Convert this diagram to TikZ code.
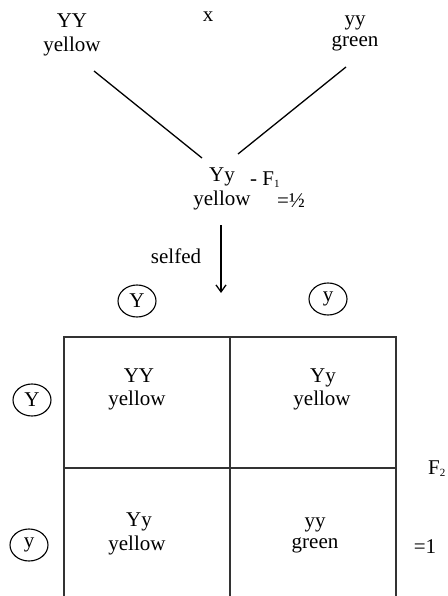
\documentclass[tikz,border=0pt]{standalone}
\usepackage{fontspec}
\setmainfont{Liberation Serif}
\usetikzlibrary{shapes.geometric,arrows.meta}
\begin{document}
\begin{tikzpicture}[x=1pt,y=-1pt,
  txt/.style={anchor=base,inner sep=0pt,font=\fontsize{21}{24}\selectfont},
  allele/.style={ellipse,draw,line width=1.1pt,minimum width=38pt,minimum height=32pt,inner sep=0pt,font=\fontsize{21}{24}\selectfont},
  conn/.style={line width=1.3pt},
  grid/.style={line width=1.3pt,draw=black!80}]
\useasboundingbox (0,0) rectangle (447,596);
% parents
\node[txt] (p1g) at (72,28) {YY};
\node[txt] (p1p) at (72,52) {yellow};
\node[txt] (cross) at (208,22) {x};
\node[txt] (p2g) at (355,26) {yy};
\node[txt] (p2p) at (355,47) {green};
% F1
\node[txt] (f1g) at (222,182) {Yy};
\node[txt,anchor=base west] (f1lab) at (250,185) {- F{\fontsize{11}{11}\selectfont\raisebox{-2pt}{1}}};
\node[txt] (f1p) at (222,205) {yellow};
\node[txt,anchor=base west] (f1r) at (277,207) {=½};
\coordinate (l1s) at (94,71);
\coordinate (l1e) at (202,158);
\coordinate (l2s) at (346,67);
\coordinate (l2e) at (238,154);
\draw[conn] (l1s) -- (l1e);
\draw[conn] (l2s) -- (l2e);
% selfed
\node[txt] (self) at (176,263) {selfed};
\coordinate (as) at (221,225);
\coordinate (ae) at (221,293);
\draw[conn,-{Straight Barb[length=7pt,width=10pt]}] (as) -- (ae);
% gametes
\node[allele] (gY) at (137,301) {Y};
\node[allele] (gy) at (328,299) {\raisebox{2pt}{y}};
\node[allele] (hY) at (32,400) {Y};
\node[allele] (hy) at (29,545) {\raisebox{2pt}{y}};
% grid
\coordinate (bl) at (64,596);
\coordinate (tl) at (64,337);
\coordinate (tr) at (396,337);
\coordinate (br) at (396,596);
\coordinate (mt) at (230,337);
\coordinate (mb) at (230,596);
\coordinate (ml) at (64,468);
\coordinate (mr) at (396,468);
\draw[grid] (bl) -- (tl) -- (tr) -- (br);
\draw[grid] (mt) -- (mb);
\draw[grid] (ml) -- (mr);
% cells
\node[txt] (c11g) at (139,382) {YY};
\node[txt] (c11p) at (137,405) {yellow};
\node[txt] (c12g) at (323,382) {Yy};
\node[txt] (c12p) at (322,405) {yellow};
\node[txt] (c21g) at (139,526) {Yy};
\node[txt] (c21p) at (137,550) {yellow};
\node[txt] (c22g) at (315,527) {yy};
\node[txt] (c22p) at (315,548) {green};
% F2
\node[txt,anchor=base west] (f2) at (428,474) {F{\fontsize{11}{11}\selectfont\raisebox{-2pt}{2}}};
\node[txt] (ratio) at (425,553) {=1};
\end{tikzpicture}
\end{document}
